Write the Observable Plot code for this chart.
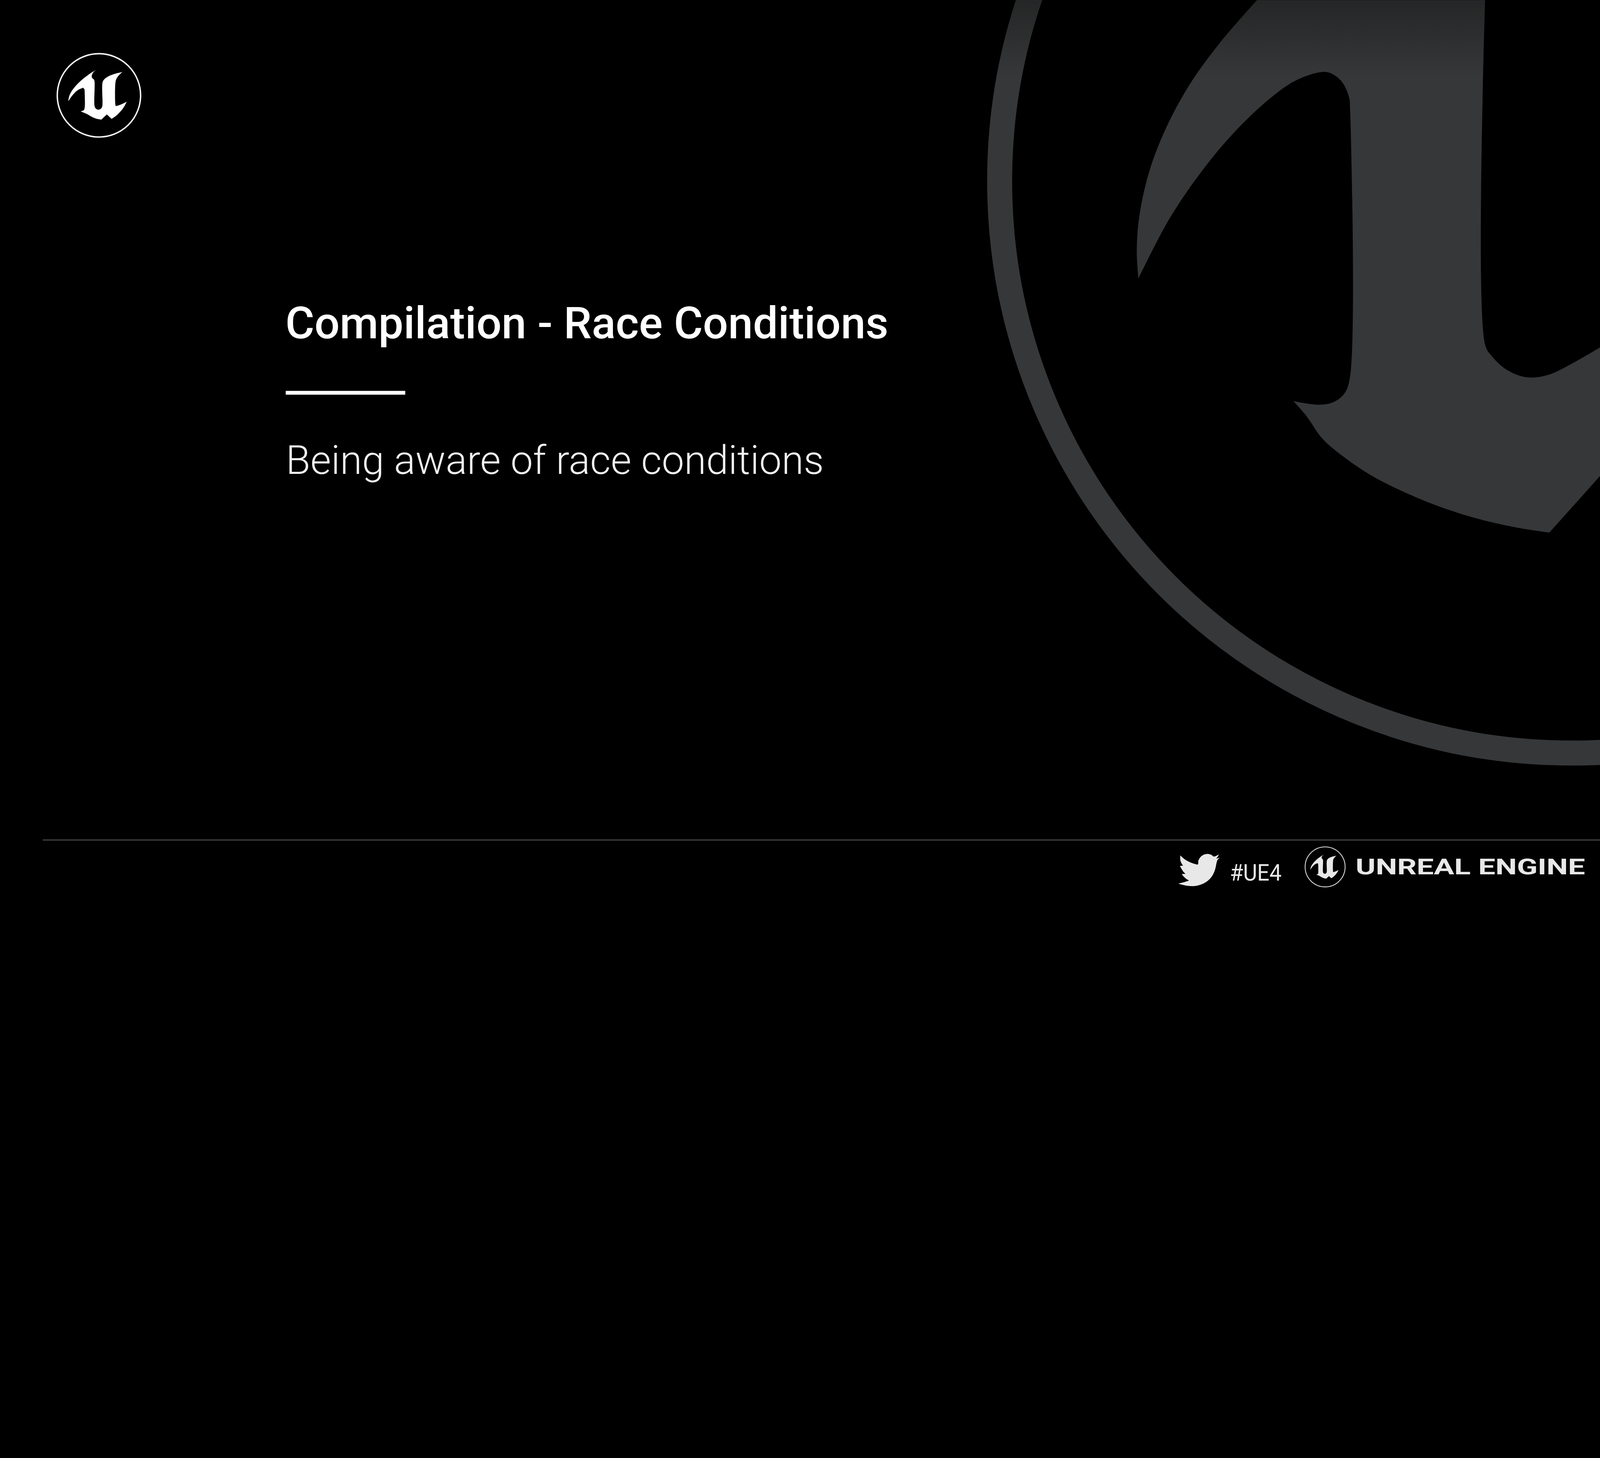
<!DOCTYPE html>
<html>
<head>
<meta charset="utf-8">
<script src="https://cdn.jsdelivr.net/npm/d3@7"></script>
<script src="https://cdn.jsdelivr.net/npm/@observablehq/plot@0.6"></script>
<style>
  html, body { margin: 0; padding: 0; background: #000; overflow: hidden; }
  #chart svg { display: block; overflow: hidden; max-width: 100%; height: auto; }
</style>
</head>
<body>
<div id="chart"></div>
<script>
// ---- text content ----
const titleText = ["Compilation - Race Conditions"];
const subtitleText = ["Being aware of race conditions"];
const hashtagText = ["#UE4"];
const brandText = ["UNREAL ENGINE"];

// ---- big background logo outline (page pixels) ----
const bigLogoOutline = [
  [5279,0],[6237,0],[6237,0],[6237,1447],[6266,1496],[6329,1553],[6412,1584],[6501,1574],
  [6606,1524],[6720,1458],[6720,1458],[6720,1998],[6720,1998],[6507,2236],[6507,2236],
  [6371,2215],[6214,2180],[6057,2131],[5938,2084],[5771,2003],[5654,1926],[5554,1842],
  [5487,1747],[5432,1684],[5432,1684],[5537,1699],[5600,1688],[5646,1652],[5670,1579],
  [5670,464],[5665,406],[5633,340],[5584,305],[5542,303],[5437,340],[5331,415],[5191,547],
  [5051,713],[4910,920],[4781,1169],[4781,1169],[4774,1061],[4784,912],[4826,721],
  [4896,539],[4995,356],[5121,182],[5279,0],[5279,0]
];

const logoGlyph = [
  [525,232],[525,232],[490,258],[470,290],[464,318],[474,340],[492,356],[500,385],[500,690],
  [515,720],[545,735],[575,727],[595,700],[600,650],[600,395],[620,355],[680,312],[760,282],
  [850,262],[850,262],[800,310],[772,355],[762,405],[760,650],[766,690],[766,690],[800,682],
  [852,662],[905,635],[905,635],[878,688],[835,748],[785,800],[740,835],[715,850],[715,850],
  [655,795],[655,795],[585,860],[585,860],[525,850],[465,825],[400,788],[325,757],[325,757],
  [365,740],[376,705],[374,480],[374,480],[356,458],[356,458],[300,482],[250,522],[205,575],
  [170,630],[170,630],[176,580],[202,518],[250,450],[320,377],[400,312],[468,264],[525,232]
];

const birdOutline = [
  [80,65],[80,65],[130,110],[200,150],[260,172],[302,178],[308,132],[333,88],[373,58],[425,47],
  [470,58],[502,80],[540,68],[568,52],[568,52],[548,88],[534,104],[578,95],[578,95],[548,126],
  [537,160],[521,235],[493,305],[446,368],[386,412],[316,440],[240,452],[160,447],[98,433],
  [55,420],[55,420],[120,404],[190,382],[190,382],[150,356],[118,326],[100,300],[100,300],
  [145,298],[145,298],[115,266],[92,228],[75,198],[75,198],[115,194],[115,194],[93,160],
  [80,120],[80,65]
];

// ---- layout ----
const W = 6720, H = 3732;
const gray = "#363738";
const glyphAt = (cx, cy, k) => ({x: d => cx + (d[0] - 555) * k, y: d => cy + (d[1] - 555) * k});
const birdAt = (ox, oy, k) => ({x: d => ox + d[0] * k, y: d => oy + d[1] * k});

const kTop = 178 / 534;
const kFoot = 86 / 534;

const chart = Plot.plot({
  width: W,
  height: H,
  margin: 0,
  x: {domain: [0, W], range: [0, W], axis: null},
  y: {domain: [0, H], range: [0, H], axis: null},
  style: {background: "#000", color: "#fff", overflow: "hidden", fontFamily: "Roboto, 'Noto Sans', sans-serif"},
  marks: [
    // background logo: ring + glyph
    Plot.dot([0], {x: 6600, y: 760, r: 2402, stroke: gray, strokeWidth: 105, fill: "none"}),
    Plot.line(bigLogoOutline, {x: d => d[0], y: d => d[1], fill: gray, stroke: "none", curve: "catmull-rom"}),
    Plot.rect([0], {x1: 4000, x2: W, y1: 0, y2: 320, fill: "url(#topfade)"}),

    // top-left logo
    Plot.dot([0], {x: 415, y: 400, r: 175, stroke: "#f4f4f4", strokeWidth: 6, fill: "none"}),
    Plot.line(logoGlyph, {...glyphAt(415, 400, kTop), fill: "#ffffff", stroke: "none", curve: "catmull-rom"}),

    // title block
    Plot.text(titleText, {x: 1198, y: 1420, text: d => d, textAnchor: "start", lineAnchor: "bottom",
      fontSize: 187, fontWeight: 500, fill: "#ffffff"}),
    Plot.ruleY([0], {y: 1649, x1: 1200, x2: 1702, stroke: "#ffffff", strokeWidth: 16}),
    Plot.text(subtitleText, {x: 1200, y: 1990, text: d => d, textAnchor: "start", lineAnchor: "bottom",
      fontSize: 168, fontWeight: 300, fill: "#f2f2f2"}),

    // footer
    Plot.ruleY([0], {y: 3527, x1: 180, x2: W, stroke: "#383838", strokeWidth: 6}),
    Plot.line(birdOutline, {...birdAt(4930, 3570, 1 / 3), fill: "#e8e8e8", stroke: "none", curve: "catmull-rom"}),
    Plot.text(hashtagText, {x: 5165, y: 3698, text: d => d, textAnchor: "start", lineAnchor: "bottom",
      fontSize: 96, fontWeight: 400, fill: "#e8e8e8"}),
    Plot.dot([0], {x: 5565, y: 3640, r: 84, stroke: "#dcdcdc", strokeWidth: 3.5, fill: "none"}),
    Plot.line(logoGlyph, {...glyphAt(5565, 3640, kFoot), fill: "#e8e8e8", stroke: "none", curve: "catmull-rom"}),
    Plot.text(brandText, {x: 5693, y: 3672, text: d => d, textAnchor: "start", lineAnchor: "bottom",
      fontSize: 90, fontWeight: 700, fill: "#e8e8e8"})
  ]
});

chart.insertAdjacentHTML("afterbegin",
  '<defs><linearGradient id="topfade" x1="0" y1="0" x2="0" y2="1">' +
  '<stop offset="0" stop-color="#000" stop-opacity="0.32"/>' +
  '<stop offset="1" stop-color="#000" stop-opacity="0"/></linearGradient></defs>');

// stretch the footer wordmarks to their widths in the reference
const widths = new Map([[hashtagText[0], 217], [brandText[0], 964]]);
chart.querySelectorAll("text").forEach(t => {
  const len = widths.get(t.textContent.trim());
  if (len) {
    t.setAttribute("textLength", len);
    t.setAttribute("lengthAdjust", "spacingAndGlyphs");
  }
});

document.getElementById("chart").append(chart);
</script>
</body>
</html>
